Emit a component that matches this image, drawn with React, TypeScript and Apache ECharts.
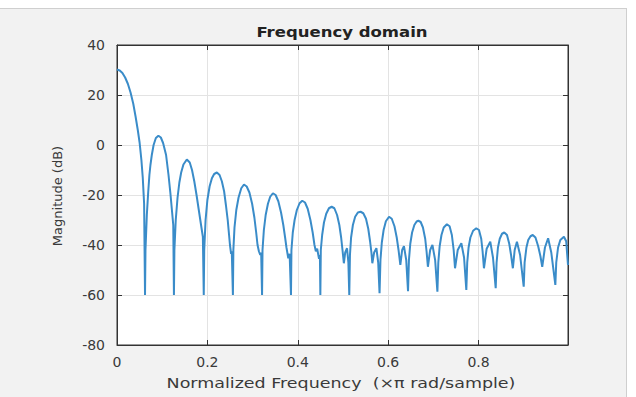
import React, { useEffect, useRef } from "react";
import * as echarts from "echarts";

// Normalized frequency (x pi rad/sample)
const freq: number[] = [
  0, 0.006, 0.012, 0.018, 0.024, 0.03, 0.036, 0.041, 0.046, 0.05, 0.054, 0.057, 0.059, 0.06, 0.062,
  0.063, 0.066, 0.069, 0.0717, 0.074, 0.077, 0.081, 0.086, 0.0916, 0.097, 0.102, 0.1086, 0.114, 0.118, 0.1215, 0.1245, 0.126,
  0.127, 0.13, 0.134, 0.138, 0.142, 0.147, 0.1545, 0.161, 0.166, 0.171, 0.176, 0.181, 0.186, 0.19, 0.192,
  0.193, 0.196, 0.2, 0.205, 0.21, 0.215, 0.221, 0.227, 0.232, 0.237, 0.241, 0.245, 0.248, 0.25, 0.2525, 0.254, 0.2565,
  0.2575, 0.26, 0.264, 0.269, 0.275, 0.281, 0.287, 0.293, 0.299, 0.304, 0.308, 0.311, 0.314, 0.317, 0.319, 0.321,
  0.322, 0.325, 0.329, 0.334, 0.339, 0.345, 0.351, 0.357, 0.363, 0.368, 0.372, 0.375, 0.379, 0.382, 0.385,
  0.386, 0.389, 0.393, 0.398, 0.404, 0.41, 0.416, 0.422, 0.428, 0.433, 0.437, 0.44, 0.443, 0.447, 0.449, 0.45,
  0.451, 0.454, 0.458, 0.463, 0.469, 0.475, 0.481, 0.487, 0.492, 0.496, 0.499, 0.502, 0.505, 0.509, 0.512, 0.514,
  0.5155, 0.518, 0.522, 0.527, 0.533, 0.539, 0.545, 0.551, 0.556, 0.56, 0.563, 0.565, 0.569, 0.574, 0.578, 0.581,
  0.583, 0.586, 0.59, 0.595, 0.602, 0.608, 0.614, 0.619, 0.623, 0.627, 0.631, 0.635, 0.64, 0.644,
  0.646, 0.649, 0.653, 0.658, 0.663, 0.667, 0.672, 0.677, 0.682, 0.685, 0.688, 0.693, 0.698, 0.704, 0.709,
  0.711, 0.714, 0.718, 0.723, 0.73, 0.736, 0.741, 0.745, 0.748, 0.754, 0.762, 0.768, 0.773,
  0.775, 0.778, 0.782, 0.788, 0.795, 0.801, 0.806, 0.809, 0.812, 0.818, 0.826, 0.832, 0.838,
  0.84, 0.843, 0.847, 0.852, 0.857, 0.863, 0.868, 0.872, 0.876, 0.88, 0.885, 0.892, 0.9,
  0.902, 0.906, 0.91, 0.915, 0.92, 0.926, 0.932, 0.937, 0.941, 0.947, 0.954, 0.961, 0.97,
  0.972, 0.976, 0.981, 0.989, 0.994, 0.998,
];

// Magnitude (dB) at each frequency above
const magnitudeDb: number[] = [
  30.2, 29.8, 28.8, 27, 24.5, 21, 16.5, 11.5, 6, 1, -6, -13, -20, -23.5, -60,
  -42, -28, -19, -12, -8, -4, 0, 2.8, 3.7, 3, 0.8, -4, -12, -19, -26, -32, -60,
  -42, -30, -21, -15, -11, -7.8, -5.8, -7, -10, -14.5, -20, -26, -32, -36.7, -60,
  -42, -30, -22, -16.5, -13.3, -11.6, -11, -12, -14.5, -18.5, -24, -30, -36, -40, -43.5, -42.5, -60,
  -42, -33, -26, -21, -17.3, -15.8, -16.6, -19, -23.5, -29, -35, -40, -42.5, -44, -43, -60,
  -42, -34, -28, -23.5, -20.7, -19.3, -20, -22.5, -27, -32, -37, -41, -45.3, -43.5, -60,
  -42, -35, -30, -26, -23.3, -22.3, -23, -25.5, -30, -35, -40, -42.5, -41.5, -45.5, -44, -60,
  -42, -36, -31, -27.5, -25.3, -24.7, -25.3, -28, -32, -37, -42, -47.3, -43, -41.3, -47, -60,
  -44, -37, -32, -28.7, -27, -26.7, -27.3, -29.5, -33.5, -38.5, -43, -47.3, -43, -41.3, -47, -59.3,
  -46, -39, -34, -30.5, -28.7, -29.5, -32.5, -37, -42, -48, -42, -40.5, -46, -58.5,
  -46, -39.5, -35, -32, -30.6, -30.3, -30.8, -33, -37.5, -42.5, -48.7, -42, -40, -46, -58.7,
  -47, -40.5, -36, -33, -31.7, -32.5, -36, -42, -49.3, -42, -39.3, -45, -58,
  -47, -41, -37, -34.3, -33.3, -34, -37.5, -42.5, -49.3, -41.5, -38.7, -45, -57.3,
  -47, -41, -37.5, -35.5, -35, -36, -39.5, -44, -49.3, -42, -38.7, -44, -56.7,
  -47, -41, -38, -36.5, -36, -37, -40.5, -44.5, -48.7, -41, -37.3, -43, -56,
  -47, -41, -38, -36.7, -38.5, -48,
];

const titleText = "Frequency domain";
const xAxisTitle = "Normalized Frequency  (\u00d7\u03c0 rad/sample)";
const yAxisTitle = "Magnitude (dB)";

const FONT = "DejaVu Sans";
const TXT = "#3a3a3a";
const AXIS = "#333333";

export default function App() {
  const ref = useRef<HTMLDivElement>(null);

  useEffect(() => {
    if (!ref.current) return;
    const chart = echarts.init(ref.current, undefined, { renderer: "svg" });
    const data = freq.map((f, i) => [f, magnitudeDb[i]]);

    const tickLabel = { color: TXT, fontFamily: FONT, fontSize: 14 };

    chart.setOption({
      animation: false,
      backgroundColor: "#f2f2f2",
      grid: {
        left: 117,
        right: 68,
        top: 45,
        bottom: 52,
        show: true,
        backgroundColor: "#ffffff",
        borderColor: AXIS,
        borderWidth: 1,
      },
      xAxis: [
        {
          type: "value",
          min: 0,
          max: 0.998,
          interval: 0.2,
          axisLine: { show: true, onZero: false, lineStyle: { color: AXIS } },
          axisTick: { show: true, inside: true, length: 5, lineStyle: { color: AXIS } },
          axisLabel: { ...tickLabel, margin: 10, showMaxLabel: false },
          splitLine: { show: true, lineStyle: { color: "#e3e3e3", width: 1 } },
        },
        {
          type: "value",
          position: "top",
          min: 0,
          max: 0.998,
          interval: 0.2,
          axisLine: { show: true, onZero: false, lineStyle: { color: AXIS } },
          axisTick: { show: true, inside: true, length: 5, lineStyle: { color: AXIS } },
          axisLabel: { show: false },
          splitLine: { show: false },
        },
      ],
      yAxis: [
        {
          type: "value",
          min: -80,
          max: 40,
          interval: 20,
          axisLine: { show: true, onZero: false, lineStyle: { color: AXIS } },
          axisTick: { show: true, inside: true, length: 5, lineStyle: { color: AXIS } },
          axisLabel: { ...tickLabel, margin: 12 },
          splitLine: { show: true, lineStyle: { color: "#e3e3e3", width: 1 } },
        },
        {
          type: "value",
          position: "right",
          min: -80,
          max: 40,
          interval: 20,
          axisLine: { show: true, onZero: false, lineStyle: { color: AXIS } },
          axisTick: { show: true, inside: true, length: 5, lineStyle: { color: AXIS } },
          axisLabel: { show: false },
          splitLine: { show: false },
        },
      ],
      graphic: [
        { type: "rect", shape: { x: 0, y: 0, width: 636, height: 8 }, style: { fill: "#ffffff" }, silent: true },
        { type: "rect", shape: { x: 626, y: 0, width: 10, height: 397 }, style: { fill: "#ffffff" }, silent: true },
        { type: "line", shape: { x1: 0, y1: 8.5, x2: 626, y2: 8.5 }, style: { stroke: "#cfcfcf", lineWidth: 1 }, silent: true },
        { type: "line", shape: { x1: 626.5, y1: 8, x2: 626.5, y2: 397 }, style: { stroke: "#cfcfcf", lineWidth: 1 }, silent: true },
        {
          type: "text",
          x: 342,
          y: 32,
          scaleX: 1.18,
          style: {
            text: titleText,
            fill: "#222222",
            font: `bold 14px "${FONT}"`,
            textAlign: "center",
            textVerticalAlign: "middle",
          },
        },
        {
          type: "text",
          x: 341,
          y: 383,
          scaleX: 1.25,
          style: {
            text: xAxisTitle,
            fill: TXT,
            font: `14px "${FONT}"`,
            textAlign: "center",
            textVerticalAlign: "middle",
          },
        },
        {
          type: "text",
          x: 57,
          y: 196,
          rotation: Math.PI / 2,
          style: {
            text: yAxisTitle,
            fill: TXT,
            font: `13px "${FONT}"`,
            textAlign: "center",
            textVerticalAlign: "middle",
          },
        },
      ],
      series: [
        {
          type: "line",
          data,
          showSymbol: false,
          smooth: false,
          lineStyle: { color: "#3a8cc9", width: 2 },
          itemStyle: { color: "#3a8cc9" },
          z: 3,
        },
      ],
    });

    return () => chart.dispose();
  }, []);

  return (
    <div
      ref={ref}
      style={{ position: "fixed", left: 0, top: 0, width: 636, height: 397 }}
    />
  );
}
